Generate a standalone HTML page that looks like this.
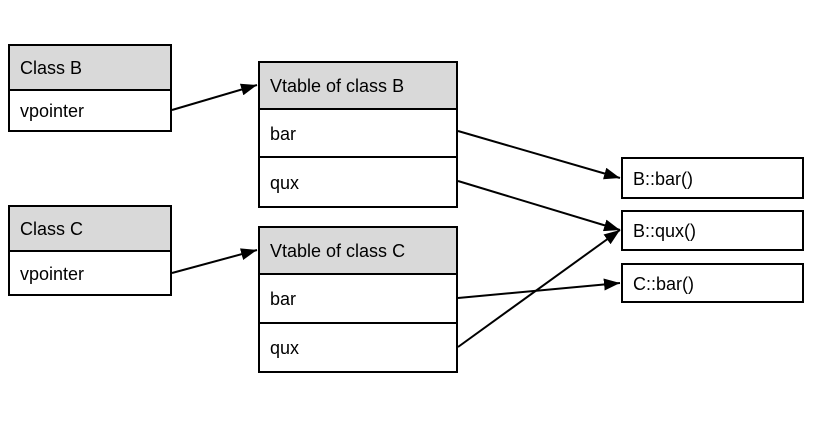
<!DOCTYPE html>
<html><head><style>
body{margin:0;width:836px;height:428px;background:#fff;position:relative;font-family:"Liberation Sans",sans-serif;font-size:18px;color:#000;overflow:hidden}
.b{position:absolute;box-sizing:border-box;border:2px solid #000;background:#fff;padding-left:10px;padding-top:2px;display:flex;align-items:center}
.h{background:#d9d9d9}
svg{position:absolute;left:0;top:0}
</style></head><body>
<div class="b h" style="left:8px;top:44px;width:164px;height:47px">Class B</div>
<div class="b" style="left:8px;top:89px;width:164px;height:43px">vpointer</div>
<div class="b h" style="left:258px;top:61px;width:200px;height:49px">Vtable of class B</div>
<div class="b" style="left:258px;top:108px;width:200px;height:50px">bar</div>
<div class="b" style="left:258px;top:156px;width:200px;height:52px">qux</div>
<div class="b h" style="left:8px;top:205px;width:164px;height:47px">Class C</div>
<div class="b" style="left:8px;top:250px;width:164px;height:46px">vpointer</div>
<div class="b h" style="left:258px;top:226px;width:200px;height:49px">Vtable of class C</div>
<div class="b" style="left:258px;top:273px;width:200px;height:51px">bar</div>
<div class="b" style="left:258px;top:322px;width:200px;height:51px">qux</div>
<div class="b" style="left:621px;top:157px;width:183px;height:42px">B::bar()</div>
<div class="b" style="left:621px;top:210px;width:183px;height:41px">B::qux()</div>
<div class="b" style="left:621px;top:263px;width:183px;height:40px">C::bar()</div>
<svg width="836" height="428">
<defs><marker id="c" markerWidth="16" markerHeight="12" refX="16" refY="6" orient="auto" markerUnits="userSpaceOnUse"><path d="M0,0L16,6L0,12z" fill="#000"/></marker></defs>
<g stroke="#000" stroke-width="2" fill="none">
<line x1="172" y1="110" x2="257" y2="85" marker-end="url(#c)"/>
<line x1="458" y1="131" x2="620" y2="178" marker-end="url(#c)"/>
<line x1="458" y1="181" x2="620" y2="230" marker-end="url(#c)"/>
<line x1="172" y1="273" x2="257" y2="250" marker-end="url(#c)"/>
<line x1="458" y1="298" x2="620" y2="283" marker-end="url(#c)"/>
<line x1="458" y1="347" x2="620" y2="230" marker-end="url(#c)"/>
</g></svg>
</body></html>
